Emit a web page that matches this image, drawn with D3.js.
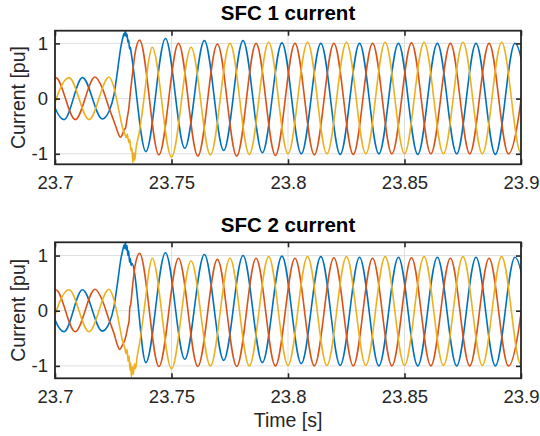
<!DOCTYPE html>
<html>
<head>
<meta charset="utf-8">
<script src="https://cdn.jsdelivr.net/npm/d3@7"></script>
<style>
  body { margin: 0; background: #fff; }
  svg { display: block; }
</style>
</head>
<body>
<div id="chart"></div>
<script>
// axis values
var xTicks = [23.7, 23.75, 23.8, 23.85, 23.9];
var yTicks = [-1, 0, 1];
var titles = ['SFC 1 current', 'SFC 2 current'];
var yLimits1 = [-1.19, 1.23];
var yLimits2 = [-1.225, 1.24];

// phase currents [time s, current pu] at peaks, troughs and in the transient
var sfc1Blue = [
  [23.6956, 0.38], [23.7039, -0.38], [23.7118, 0.38], [23.7203, -0.37], [23.7232, -0.23],
  [23.7253, 0.07], [23.7268, 0.49], [23.7282, 0.92], [23.7292, 1.12], [23.7296, 1.18],
  [23.7299, 1.14], [23.7302, 1.23], [23.7306, 1.12], [23.7309, 1.17], [23.7313, 1.02],
  [23.7316, 1.06], [23.7320, 0.90], [23.7323, 0.93], [23.7328, 0.80], [23.7390, -0.96],
  [23.7474, 1.09], [23.7557, -0.90], [23.7641, 1.05], [23.7724, -0.94], [23.7807, 1.05],
  [23.7890, -0.98], [23.7974, 1.01], [23.8057, -1.00], [23.8141, 1.00], [23.8224, -1.01],
  [23.8307, 1.00], [23.8390, -1.00], [23.8474, 1.00], [23.8557, -1.01], [23.8641, 1.00],
  [23.8724, -1.00], [23.8807, 1.00], [23.8890, -1.01], [23.8974, 1.00], [23.9057, -1.00]
];
var sfc1Orange = [
  [23.6920, -0.38], [23.7003, 0.38], [23.7087, -0.38], [23.7172, 0.39], [23.7203, 0.19],
  [23.7232, -0.17], [23.7253, -0.41], [23.7268, -0.59], [23.7280, -0.70], [23.7288, -0.66],
  [23.7296, -0.57], [23.7303, -0.53], [23.7310, -0.35], [23.7317, -0.17], [23.7324, 0.13],
  [23.7332, 0.43], [23.7343, 0.80], [23.7363, 1.06], [23.7446, -1.02], [23.7530, 1.00],
  [23.7613, -1.04], [23.7697, 0.99], [23.7780, -1.04], [23.7863, 1.00], [23.7946, -1.03],
  [23.8030, 1.00], [23.8113, -1.02], [23.8197, 1.00], [23.8280, -1.01], [23.8363, 1.00],
  [23.8446, -1.00], [23.8530, 1.01], [23.8613, -1.00], [23.8697, 1.00], [23.8780, -1.00],
  [23.8863, 1.00], [23.8946, -1.00], [23.9030, 1.00]
];
var sfc1Yellow = [
  [23.6977, -0.38], [23.7060, 0.38], [23.7146, -0.38], [23.7232, 0.39], [23.7253, 0.20],
  [23.7275, -0.23], [23.7290, -0.53], [23.7300, -0.64], [23.7306, -0.71], [23.7310, -0.64],
  [23.7317, -0.80], [23.7321, -0.74], [23.7326, -0.95], [23.7330, -0.89], [23.7334, -1.16],
  [23.7338, -0.98], [23.7342, -1.12], [23.7348, -0.89], [23.7360, -0.65], [23.7375, -0.23],
  [23.7389, 0.25], [23.7403, 0.71], [23.7417, 0.93], [23.7500, -1.06], [23.7584, 0.93],
  [23.7667, -1.02], [23.7751, 1.00], [23.7834, -1.01], [23.7917, 1.02], [23.8000, -1.00],
  [23.8084, 1.02], [23.8167, -1.00], [23.8251, 1.02], [23.8334, -1.00], [23.8417, 1.02],
  [23.8500, -1.00], [23.8584, 1.02], [23.8667, -1.00], [23.8751, 1.02], [23.8834, -1.00],
  [23.8917, 1.02], [23.9000, -0.99], [23.9084, 1.00]
];
var sfc2Blue = [
  [23.6956, 0.38], [23.7039, -0.38], [23.7118, 0.38], [23.7203, -0.37], [23.7232, -0.23],
  [23.7253, 0.07], [23.7268, 0.49], [23.7282, 0.92], [23.7292, 1.12], [23.7296, 1.19],
  [23.7299, 1.13], [23.7302, 1.24], [23.7306, 1.10], [23.7309, 1.18], [23.7313, 1.00],
  [23.7316, 1.08], [23.7320, 0.88], [23.7323, 0.95], [23.7327, 0.82], [23.7330, 0.86],
  [23.7390, -0.94], [23.7474, 1.05], [23.7557, -0.88], [23.7641, 1.02], [23.7724, -0.90],
  [23.7807, 1.00], [23.7890, -0.94], [23.7974, 0.99], [23.8057, -0.96], [23.8141, 0.98],
  [23.8224, -0.99], [23.8307, 0.97], [23.8390, -1.00], [23.8474, 0.97], [23.8557, -1.00],
  [23.8641, 0.97], [23.8724, -1.00], [23.8807, 0.97], [23.8890, -1.00], [23.8974, 0.97],
  [23.9057, -1.00]
];
var sfc2Orange = [
  [23.6920, -0.38], [23.7003, 0.38], [23.7087, -0.38], [23.7172, 0.39], [23.7203, 0.19],
  [23.7232, -0.17], [23.7253, -0.41], [23.7266, -0.60], [23.7278, -0.70], [23.7290, -0.62],
  [23.7298, -0.55], [23.7305, -0.45], [23.7312, -0.30], [23.7318, -0.18], [23.7321, 0.05],
  [23.7325, 0.12], [23.7333, 0.45], [23.7343, 0.80], [23.7363, 1.04], [23.7446, -1.01],
  [23.7530, 0.95], [23.7613, -1.01], [23.7697, 0.93], [23.7780, -1.01], [23.7863, 0.95],
  [23.7946, -1.00], [23.8030, 0.95], [23.8113, -1.00], [23.8197, 0.96], [23.8280, -1.00],
  [23.8363, 0.95], [23.8446, -1.00], [23.8530, 0.96], [23.8613, -1.00], [23.8697, 0.95],
  [23.8780, -1.00], [23.8863, 0.95], [23.8946, -1.00], [23.9030, 0.95]
];
var sfc2Yellow = [
  [23.6977, -0.38], [23.7060, 0.38], [23.7146, -0.38], [23.7232, 0.39], [23.7253, 0.20],
  [23.7275, -0.23], [23.7290, -0.55], [23.7300, -0.68], [23.7305, -0.78], [23.7309, -0.70],
  [23.7314, -0.92], [23.7318, -0.82], [23.7322, -1.08], [23.7325, -0.95], [23.7328, -1.20],
  [23.7332, -1.02], [23.7336, -1.15], [23.7341, -0.96], [23.7346, -1.05], [23.7352, -0.85],
  [23.7362, -0.62], [23.7376, -0.20], [23.7390, 0.27], [23.7404, 0.74], [23.7417, 0.95],
  [23.7500, -1.05], [23.7584, 0.90], [23.7667, -1.00], [23.7751, 0.95], [23.7834, -1.00],
  [23.7917, 0.98], [23.8000, -0.99], [23.8084, 0.98], [23.8167, -0.99], [23.8251, 0.98],
  [23.8334, -0.99], [23.8417, 0.98], [23.8500, -0.99], [23.8584, 0.98], [23.8667, -0.99],
  [23.8751, 0.98], [23.8834, -0.99], [23.8917, 0.98], [23.9000, -0.98], [23.9084, 0.98]
];

var colors = ['#0072BD', '#D95319', '#EDB120'];
var font = '"Liberation Sans", Arial, Helvetica, sans-serif';
var ink = '#262626';

var width = 540, height = 436,
  left = 55, right = 521;

var svg = d3.select('#chart')
  .append('svg')
  .attr('width', width)
  .attr('height', height);

var x = d3.scaleLinear().domain([23.7, 23.9]).range([left, right]);

var panels = [
  { id: 'p1', title: titles[0], top: 30.7, bottom: 164.3, ylim: yLimits1, series: [sfc1Blue, sfc1Orange, sfc1Yellow] },
  { id: 'p2', title: titles[1], top: 242.3, bottom: 378.3, ylim: yLimits2, series: [sfc2Blue, sfc2Orange, sfc2Yellow] }
];

function styleAxis(g, labels) {
  g.select('.domain').remove();
  g.selectAll('.tick line').attr('stroke', ink).attr('stroke-width', 1.6);
  g.selectAll('.tick text')
    .attr('fill', ink)
    .style('font-family', font)
    .style('font-size', '18.5px');
  if (!labels) g.selectAll('.tick text').remove();
}

panels.forEach(function(p) {
  var y = d3.scaleLinear().domain(p.ylim).range([p.bottom, p.top]);
  var g = svg.append('g');

  g.append('clipPath')
    .attr('id', 'clip-' + p.id)
    .append('rect')
    .attr('x', left)
    .attr('y', p.top)
    .attr('width', right - left)
    .attr('height', p.bottom - p.top);

  // grid
  g.append('g')
    .selectAll('line.gx')
    .data(xTicks)
    .join('line')
    .attr('x1', function(d){ return x(d); })
    .attr('x2', function(d){ return x(d); })
    .attr('y1', p.top)
    .attr('y2', p.bottom)
    .attr('stroke', '#dfdfdf')
    .attr('stroke-width', 1);
  g.append('g')
    .selectAll('line.gy')
    .data(yTicks)
    .join('line')
    .attr('x1', left)
    .attr('x2', right)
    .attr('y1', function(d){ return y(d); })
    .attr('y2', function(d){ return y(d); })
    .attr('stroke', '#dfdfdf')
    .attr('stroke-width', 1);

  var line = d3.line()
    .x(function(d){ return x(d[0]); })
    .y(function(d){ return y(d[1]); })
    .curve(d3.curveMonotoneX);

  g.append('g')
    .attr('clip-path', 'url(#clip-' + p.id + ')')
    .selectAll('path')
    .data(p.series)
    .join('path')
    .attr('d', line)
    .attr('fill', 'none')
    .attr('stroke', function(d, i){ return colors[i]; })
    .attr('stroke-width', 1.6)
    .attr('stroke-linejoin', 'round');

  // axes, ticks pointing inward on all four sides
  g.append('g')
    .attr('transform', 'translate(0,' + p.bottom + ')')
    .call(d3.axisBottom(x).tickValues(xTicks).tickSize(-5).tickPadding(11.5)
      .tickFormat(function(d){ return String(d); }))
    .call(styleAxis, true);
  g.append('g')
    .attr('transform', 'translate(0,' + p.top + ')')
    .call(d3.axisTop(x).tickValues(xTicks).tickSize(-5))
    .call(styleAxis, false);
  g.append('g')
    .attr('transform', 'translate(' + left + ',0)')
    .call(d3.axisLeft(y).tickValues(yTicks).tickSize(-5).tickPadding(7)
      .tickFormat(function(d){ return String(d); }))
    .call(styleAxis, true);
  g.append('g')
    .attr('transform', 'translate(' + right + ',0)')
    .call(d3.axisRight(y).tickValues(yTicks).tickSize(-5))
    .call(styleAxis, false);

  g.append('rect')
    .attr('x', left)
    .attr('y', p.top)
    .attr('width', right - left)
    .attr('height', p.bottom - p.top)
    .attr('fill', 'none')
    .attr('stroke', ink)
    .attr('stroke-width', 1.8);

  g.append('text')
    .attr('x', (left + right) / 2)
    .attr('y', p.top - 10.5)
    .attr('text-anchor', 'middle')
    .style('font-family', font)
    .style('font-size', '20.5px')
    .style('font-weight', 'bold')
    .attr('fill', '#000')
    .text(p.title);

  g.append('text')
    .attr('transform', 'translate(24.5,' + ((p.top + p.bottom) / 2) + ') rotate(-90)')
    .attr('text-anchor', 'middle')
    .style('font-family', font)
    .style('font-size', '19.5px')
    .attr('fill', ink)
    .text('Current [pu]');
});

svg.append('text')
  .attr('x', (left + right) / 2)
  .attr('y', 427)
  .attr('text-anchor', 'middle')
  .style('font-family', font)
  .style('font-size', '19.5px')
  .attr('fill', ink)
  .text('Time [s]');
</script>
</body>
</html>
